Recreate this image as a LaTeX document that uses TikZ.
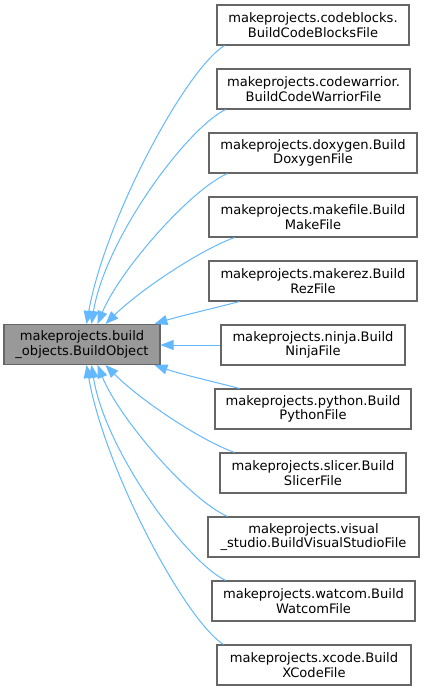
\documentclass[tikz,border=0pt]{standalone}
\usepackage{fontspec}
\setmainfont{DejaVu Sans}
\usetikzlibrary{arrows.meta,calc}
\definecolor{edgeblue}{HTML}{63B8FF}
\definecolor{boxgray}{HTML}{666666}
\definecolor{basefill}{HTML}{999999}
\begin{document}
\begin{tikzpicture}[x=0.75pt,y=-0.75pt,
 cls/.style={draw=boxgray,line width=0.8pt,fill=white,inner sep=0pt,align=center,minimum height=30pt,font=\fontsize{9.8}{10.8}\selectfont},
 basecls/.style={cls,fill=basefill},
 inh/.style={draw=edgeblue,line width=0.75pt,-{Triangle[length=9.75pt,width=7.5pt,fill=edgeblue]}},
]
\useasboundingbox (0,0) rectangle (424,691);
\node[basecls,minimum width=117pt] (base) at (82,344.5) {makeprojects.build\\\_objects.BuildObject};
\node[cls,minimum width=144pt] (cb) at (313,25) {makeprojects.codeblocks.\\BuildCodeBlocksFile};
\node[cls,minimum width=144.75pt] (cw) at (313.5,89) {makeprojects.codewarrior.\\BuildCodeWarriorFile};
\node[cls,minimum width=156pt] (dx) at (313,153) {makeprojects.doxygen.Build\\DoxygenFile};
\node[cls,minimum width=156pt] (mf) at (313,217) {makeprojects.makefile.Build\\MakeFile};
\node[cls,minimum width=156pt] (mr) at (313,281) {makeprojects.makerez.Build\\RezFile};
\node[cls,minimum width=138pt] (nj) at (313,345) {makeprojects.ninja.Build\\NinjaFile};
\node[cls,minimum width=147pt] (py) at (313,409) {makeprojects.python.Build\\PythonFile};
\node[cls,minimum width=139.5pt] (sl) at (313,473) {makeprojects.slicer.Build\\SlicerFile};
\node[cls,minimum width=158.25pt] (vs) at (313.5,537) {makeprojects.visual\\\_studio.BuildVisualStudioFile};
\node[cls,minimum width=152.25pt] (wc) at (313.5,601) {makeprojects.watcom.Build\\WatcomFile};
\node[cls,minimum width=145.5pt] (xc) at (314,665) {makeprojects.xcode.Build\\XCodeFile};

\draw[inh] ($(cb.south west)+(8,0)$) .. controls (185,70) and (105,220) .. ($(base.north west)+(83,0)$);
\draw[inh] ($(cw.south west)+(9,0)$) .. controls (185,130) and (105,240) .. ($(base.north west)+(88,0)$);
\draw[inh] ($(dx.south west)+(19,0)$) .. controls (190,190) and (120,270) .. ($(base.north west)+(94,0)$);
\draw[inh] ($(mf.south west)+(26,0)$) .. controls (200,250) and (140,290) .. ($(base.north west)+(102,0)$);
\draw[inh] ($(mr.south west)+(31,0)$) .. controls (215,308) and (180,316) .. ($(base.north west)+(151,0)$);
\draw[inh] (nj.west) -- (nj.west -| base.east);
\draw[inh] ($(py.north west)+(25,0)$) .. controls (215,382) and (180,374) .. ($(base.south west)+(151,0)$);
\draw[inh] ($(sl.north west)+(15,0)$) .. controls (200,440) and (140,400) .. ($(base.south west)+(102,0)$);
\draw[inh] ($(vs.north west)+(20,0)$) .. controls (190,500) and (120,420) .. ($(base.south west)+(94,0)$);
\draw[inh] ($(wc.north west)+(14,0)$) .. controls (185,560) and (105,450) .. ($(base.south west)+(88,0)$);
\draw[inh] ($(xc.north west)+(7,0)$) .. controls (185,620) and (105,470) .. ($(base.south west)+(83,0)$);
\end{tikzpicture}
\end{document}
